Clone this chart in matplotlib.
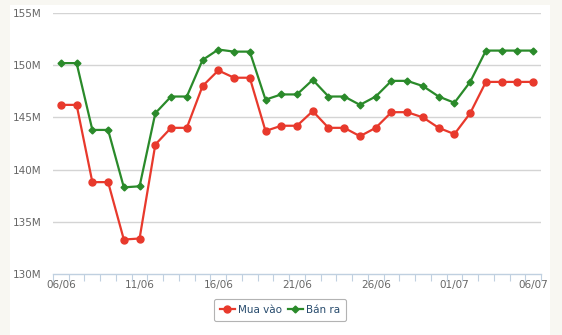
import matplotlib
matplotlib.use("Agg")
import matplotlib.pyplot as plt
from matplotlib.patches import Rectangle

# ── data (millions VND) ──────────────────────────────────────────────────────
dates = ["06/06", "07/06", "08/06", "09/06", "10/06", "11/06", "12/06", "13/06",
         "14/06", "15/06", "16/06", "17/06", "18/06", "19/06", "20/06", "21/06",
         "22/06", "23/06", "24/06", "25/06", "26/06", "27/06", "28/06", "29/06",
         "30/06", "01/07", "02/07", "03/07", "04/07", "05/07", "06/07"]
mua_vao = [146.2, 146.2, 138.8, 138.8, 133.3, 133.4, 142.4, 144.0, 144.0, 148.0,
           149.5, 148.8, 148.8, 143.7, 144.2, 144.2, 145.6, 144.0, 144.0, 143.2,
           144.0, 145.5, 145.5, 145.0, 144.0, 143.4, 145.4, 148.4, 148.4, 148.4,
           148.4]
ban_ra = [150.2, 150.2, 143.8, 143.8, 138.3, 138.4, 145.4, 147.0, 147.0, 150.5,
          151.5, 151.3, 151.3, 146.7, 147.2, 147.2, 148.6, 147.0, 147.0, 146.2,
          147.0, 148.5, 148.5, 148.0, 147.0, 146.4, 148.4, 151.4, 151.4, 151.4,
          151.4]
y_ticks = [130, 135, 140, 145, 150, 155]

RED = "#e8392c"
GREEN = "#2a8a2a"

fig = plt.figure(figsize=(5.62, 3.35), dpi=100, facecolor="#f8f7f2")
# white panel behind the chart
fig.patches.append(Rectangle((10 / 562, 0), 540 / 562, 330 / 335,
                             transform=fig.transFigure, facecolor="white",
                             edgecolor="none", zorder=-5))

ax = fig.add_axes([53 / 562, 1 - 274 / 335, 488 / 562, 261 / 335])
ax.set_facecolor("none")

x = list(range(len(dates)))
ax.plot(x, mua_vao, color=RED, lw=1.6, marker="o", ms=5, label="Mua vào",
        zorder=3)
ax.plot(x, ban_ra, color=GREEN, lw=1.6, marker="D", ms=3.5, label="Bán ra",
        zorder=3)

ax.set_ylim(130, 155)
ax.set_xlim(-0.5, len(dates) - 0.5)

# gridlines
for v in y_ticks[1:]:
    ax.axhline(v, color="#d4d4d4", lw=1, zorder=1)

ax.set_yticks(y_ticks)
ax.set_yticklabels([f"{v}M" for v in y_ticks])
ax.set_xticks(x[::5])
ax.set_xticklabels(dates[::5])
ax.set_xticks([i - 0.5 for i in range(len(dates) + 1)], minor=True)

ax.tick_params(axis="y", length=0, pad=8, labelsize=7.5, labelcolor="#666666")
ax.tick_params(axis="x", which="major", length=0, pad=4, labelsize=7.5,
               labelcolor="#666666")
ax.tick_params(axis="x", which="minor", length=5, width=0.8, color="#c0d0e0")

for side in ("top", "right", "left"):
    ax.spines[side].set_visible(False)
ax.spines["bottom"].set_color("#c0d0e0")
ax.spines["bottom"].set_linewidth(1)

leg = ax.legend(loc="center", bbox_to_anchor=(280 / 562, 1 - 310 / 335),
                bbox_transform=fig.transFigure, ncol=2, frameon=True,
                fancybox=True, fontsize=7.5, handlelength=1.4,
                columnspacing=0.6, handletextpad=0.3, borderpad=0.55,
                borderaxespad=0)
leg.get_frame().set_edgecolor("#a0a0a0")
leg.get_frame().set_linewidth(0.8)
for t in leg.get_texts():
    t.set_color("#274b6d")

fig.savefig("out.png", dpi=100, facecolor=fig.get_facecolor())
